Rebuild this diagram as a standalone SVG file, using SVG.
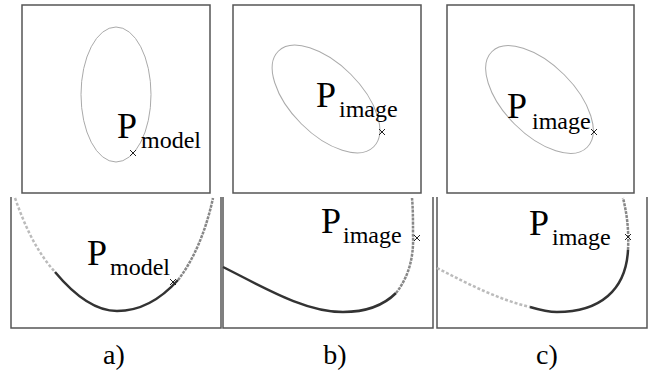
<svg xmlns="http://www.w3.org/2000/svg" width="655" height="376" viewBox="0 0 655 376">
<style>
.frame{fill:none;stroke:#555;stroke-width:1.5}
.ell{fill:none;stroke:#aaa;stroke-width:1}
.mark{stroke:#222;stroke-width:1;fill:none}
.dark{fill:none;stroke:#333;stroke-width:2.5}
.mid{fill:none;stroke:#888;stroke-width:2.5;stroke-dasharray:3 1}
.light{fill:none;stroke:#bbb;stroke-width:2.5;stroke-dasharray:3 2}
</style>
<defs>
<clipPath id="clipA"><rect x="12" y="196" width="208" height="131"/></clipPath>
</defs>
<g id="panel-a-top">
<rect class="frame" x="22" y="5" width="188" height="188"/>
<ellipse class="ell" cx="116" cy="94.5" rx="35" ry="67.5"/>
<path class="mark" d="M130,150 l6,6 M136,150 l-6,6"/>
<text font-family="Liberation Serif, DejaVu Serif, serif" font-size="36" x="117" y="138">P</text>
<text font-family="Liberation Serif, DejaVu Serif, serif" font-size="24" x="141" y="148">model</text>
</g>
<g id="panel-b-top">
<rect class="frame" x="233" y="5" width="188" height="188"/>
<ellipse class="ell" cx="326" cy="99" rx="35" ry="67.5" transform="rotate(-45 326 99)"/>
<path class="mark" d="M379,129 l6,6 M385,129 l-6,6"/>
<text font-family="Liberation Serif, DejaVu Serif, serif" font-size="36" x="316" y="107">P</text>
<text font-family="Liberation Serif, DejaVu Serif, serif" font-size="24" x="339" y="117">image</text>
</g>
<g id="panel-c-top">
<rect class="frame" x="447" y="5" width="187" height="188"/>
<ellipse class="ell" cx="539.5" cy="99.5" rx="35" ry="67.5" transform="rotate(-45 539.5 99.5)"/>
<path class="mark" d="M591,129 l6,6 M597,129 l-6,6"/>
<text font-family="Liberation Serif, DejaVu Serif, serif" font-size="36" x="507" y="118">P</text>
<text font-family="Liberation Serif, DejaVu Serif, serif" font-size="24" x="532" y="129">image</text>
</g>
<g id="panel-a-bottom">
<path class="frame" d="M11,197 V328 H221 V197"/>
<g clip-path="url(#clipA)">
<path class="light" d="M15,198 C28,235 40,255 55,272"/>
<path class="dark" d="M55,272 C75,296 95,311 117,311 C140,311 160,300 178,280"/>
<path class="mid" d="M178,280 C192,262 205,235 213,198"/>
</g>
<path class="mark" d="M170,279 l6,6 M176,279 l-6,6"/>
<text font-family="Liberation Serif, DejaVu Serif, serif" font-size="36" x="87" y="265">P</text>
<text font-family="Liberation Serif, DejaVu Serif, serif" font-size="24" x="110" y="275">model</text>
</g>
<g id="panel-b-bottom">
<path class="frame" d="M223,197 V328 H433 V197"/>
<path class="dark" d="M223,267 C265,288 305,312 343,312 C365,312 383,306 396,293"/>
<path class="mid" d="M396,293 C408,278 414,258 413,235 C413,220 413,208 412,198"/>
<path class="mark" d="M414,235 l6,6 M420,235 l-6,6"/>
<text font-family="Liberation Serif, DejaVu Serif, serif" font-size="36" x="321" y="233">P</text>
<text font-family="Liberation Serif, DejaVu Serif, serif" font-size="24" x="343" y="243">image</text>
</g>
<g id="panel-c-bottom">
<path class="frame" d="M437,197 V328 H647 V197"/>
<path class="light" d="M437,268 C470,285 500,300 530,307"/>
<path class="dark" d="M530,307 C540,310 548,312 557,312 C600,312 626,290 628,250"/>
<path class="mid" d="M628,250 C629,230 627,214 623,198"/>
<path class="mark" d="M625,234 l6,6 M631,234 l-6,6"/>
<text font-family="Liberation Serif, DejaVu Serif, serif" font-size="36" x="529" y="235">P</text>
<text font-family="Liberation Serif, DejaVu Serif, serif" font-size="24" x="552" y="245">image</text>
</g>
<g id="labels" font-family="Liberation Serif, DejaVu Serif, serif" font-size="28" text-anchor="middle">
<text x="114" y="364">a)</text>
<text x="335" y="364">b)</text>
<text x="547" y="364">c)</text>
</g>
</svg>
